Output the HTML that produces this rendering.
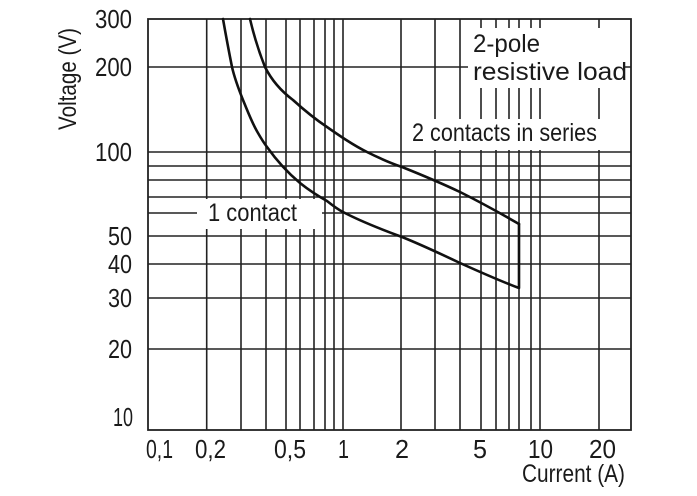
<!DOCTYPE html>
<html><head><meta charset="utf-8"><style>
html,body{margin:0;padding:0;background:#fff}
svg{display:block}
text{font-family:"Liberation Sans Narrow","Liberation Sans",sans-serif;fill:#1a1a1a}
</style></head><body>
<svg width="697" height="496" viewBox="0 0 697 496" xmlns="http://www.w3.org/2000/svg">
<g stroke="#222" stroke-width="1.6" fill="none">
<line x1="206.7" y1="19" x2="206.7" y2="430"/>
<line x1="241" y1="19" x2="241" y2="430"/>
<line x1="266" y1="19" x2="266" y2="430"/>
<line x1="286" y1="19" x2="286" y2="430"/>
<line x1="300" y1="19" x2="300" y2="430"/>
<line x1="314" y1="19" x2="314" y2="430"/>
<line x1="325" y1="19" x2="325" y2="430"/>
<line x1="334" y1="19" x2="334" y2="430"/>
<line x1="343" y1="19" x2="343" y2="430"/>
<line x1="401" y1="19" x2="401" y2="430"/>
<line x1="435" y1="19" x2="435" y2="430"/>
<line x1="460" y1="19" x2="460" y2="430"/>
<line x1="481" y1="19" x2="481" y2="430"/>
<line x1="496" y1="19" x2="496" y2="430"/>
<line x1="509" y1="19" x2="509" y2="430"/>
<line x1="519" y1="19" x2="519" y2="430"/>
<line x1="531" y1="19" x2="531" y2="430"/>
<line x1="540" y1="19" x2="540" y2="430"/>
<line x1="599" y1="19" x2="599" y2="430"/>
<line x1="148" y1="67" x2="631" y2="67"/>
<line x1="148" y1="152" x2="631" y2="152"/>
<line x1="148" y1="166" x2="631" y2="166"/>
<line x1="148" y1="180" x2="631" y2="180"/>
<line x1="148" y1="197" x2="631" y2="197"/>
<line x1="148" y1="213" x2="631" y2="213"/>
<line x1="148" y1="236" x2="631" y2="236"/>
<line x1="148" y1="264" x2="631" y2="264"/>
<line x1="148" y1="298" x2="631" y2="298"/>
<line x1="148" y1="349" x2="631" y2="349"/>
</g>
<rect x="468" y="28" width="156" height="60" fill="#fff"/>
<rect x="404" y="119" width="220" height="31" fill="#fff"/>
<rect x="197" y="199" width="125" height="30" fill="#fff"/>
<rect x="148" y="19" width="483" height="411" fill="none" stroke="#222" stroke-width="1.8"/>
<g stroke="#111" stroke-width="2.6" fill="none" stroke-linejoin="round" stroke-linecap="round">
<path d="M223,19 C226,36 229,52 232,67 C235,80 239,90 243,100 C248,112 252,123 258,133 C262,140 264,143 267,147 C277,161 288,173 300,183 C310,191 318,196 327,201 C332,205 337,209 343,212 C362,222 383,230 402,237 C422,245 441,254 460,263 C480,272 500,281 519,288 L519,224"/>
<path d="M250,19 C254,36 259,52 265,67 C272,81 281,91 293,100 C304,110 315,119 327,127 C340,136 353,145 367,152 C379,158 390,163 402,167 C422,175 441,183 460,192 C480,202 500,213 519,224"/>
</g>
<g font-size="25">
<text x="473" y="52" textLength="67" lengthAdjust="spacingAndGlyphs">2-pole</text>
<text x="473" y="80" textLength="154" lengthAdjust="spacingAndGlyphs">resistive load</text>
<text x="412" y="141" textLength="185" lengthAdjust="spacingAndGlyphs">2 contacts in series</text>
<text x="208" y="221" textLength="89" lengthAdjust="spacingAndGlyphs">1 contact</text>
<text x="522" y="482" textLength="103" lengthAdjust="spacingAndGlyphs">Current (A)</text>
<text transform="translate(76,130) rotate(-90)" textLength="102" lengthAdjust="spacingAndGlyphs">Voltage (V)</text>
</g>
<g font-size="26">
<text x="95" y="28" textLength="37" lengthAdjust="spacingAndGlyphs">300</text>
<text x="95" y="76" textLength="37" lengthAdjust="spacingAndGlyphs">200</text>
<text x="95" y="161" textLength="37" lengthAdjust="spacingAndGlyphs">100</text>
<text x="108" y="245" textLength="24" lengthAdjust="spacingAndGlyphs">50</text>
<text x="108" y="273" textLength="24" lengthAdjust="spacingAndGlyphs">40</text>
<text x="108" y="307" textLength="24" lengthAdjust="spacingAndGlyphs">30</text>
<text x="108" y="358" textLength="24" lengthAdjust="spacingAndGlyphs">20</text>
<text x="113" y="426" textLength="20" lengthAdjust="spacingAndGlyphs">10</text>
<text x="146" y="458" textLength="27" lengthAdjust="spacingAndGlyphs">0,1</text>
<text x="195" y="458" textLength="31" lengthAdjust="spacingAndGlyphs">0,2</text>
<text x="274" y="458" textLength="32" lengthAdjust="spacingAndGlyphs">0,5</text>
<text x="338" y="458" textLength="11" lengthAdjust="spacingAndGlyphs">1</text>
<text x="395" y="458" textLength="14" lengthAdjust="spacingAndGlyphs">2</text>
<text x="473" y="458" textLength="14" lengthAdjust="spacingAndGlyphs">5</text>
<text x="528" y="458" textLength="25" lengthAdjust="spacingAndGlyphs">10</text>
<text x="589" y="458" textLength="27" lengthAdjust="spacingAndGlyphs">20</text>
</g>
</svg>
</body></html>
